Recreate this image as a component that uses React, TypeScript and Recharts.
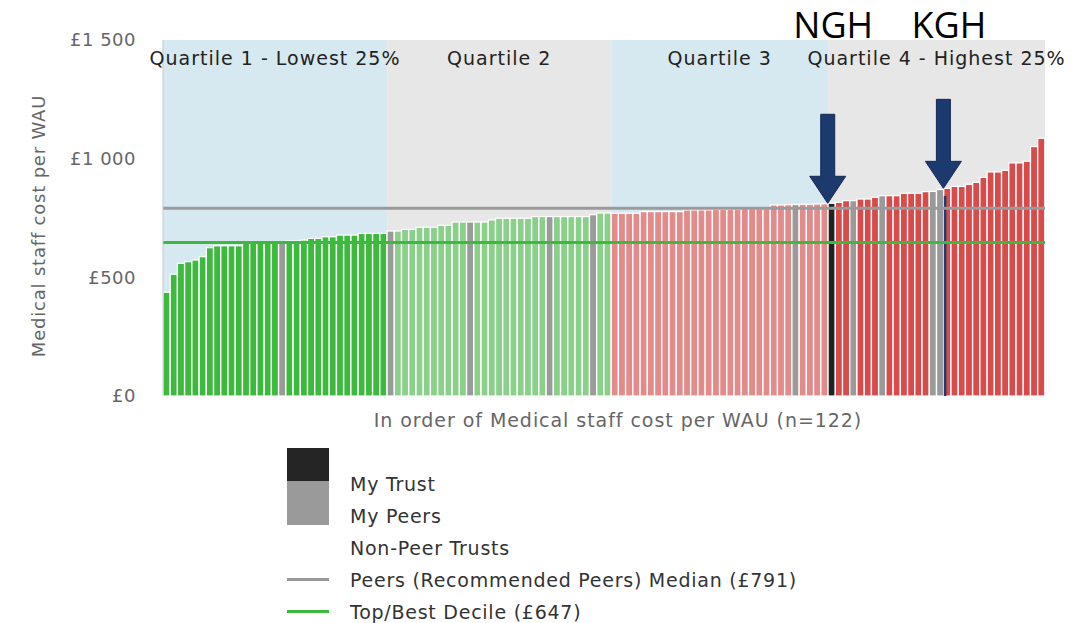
import React from 'react';
import { BarChart, Bar, XAxis, YAxis, Cell, ReferenceArea, ReferenceLine, ReferenceDot, Label } from 'recharts';

// Medical staff cost per WAU, trusts in ascending order (n=122)
const costs = [
  437, 513, 559, 566, 573, 587, 625, 633, 633, 633, 633, 643, 643, 643, 643, 643,
  643, 653, 653, 657, 664, 664, 671, 671, 678, 678, 678, 685, 685, 685, 685,
  695, 695, 702, 702, 711, 711, 711, 719, 719, 733, 733, 733, 733, 733, 742,
  749, 749, 749, 749, 749, 756, 756, 756, 756, 756, 756, 756, 756, 764, 771, 771,
  770, 770, 770, 770, 777, 777, 777, 777, 777, 777, 784, 784, 784, 784, 786, 786,
  786, 786, 789, 789, 789, 789, 805, 805, 806, 807, 808, 808, 809, 810,
  812, 816, 823, 823, 830, 830, 837, 844, 844, 844, 854, 854, 854, 861, 862, 870,
  875, 883, 883, 892, 900, 921, 944, 944, 951, 982, 982, 989, 1051, 1086,
];

const peerRanks = [17, 32, 43, 54, 60, 88, 96, 100, 107, 108];
const myTrustRank = 93;
const markerRank = 109;
const markerValue = 843;

const quartileLabels = ['Quartile 1 - Lowest 25%', 'Quartile 2', 'Quartile 3', 'Quartile 4 - Highest 25%'];
const quartileStarts = [1, 32, 63, 93];
const quartileEnds = [31, 62, 92, 122];

const peerMedian = 791;
const topDecile = 647;
const yTicks = [0, 500, 1000, 1500];

const callouts = [
  { name: 'NGH', rank: 93 },
  { name: 'KGH', rank: 109 },
];

const quartileColors = ['#3dba3d', '#8ad08a', '#e38a8a', '#d74b4b'];
const bandColors = ['#d6e9f0', '#e7e7e7', '#d6e9f0', '#e7e7e7'];
const font = '"DejaVu Sans", sans-serif';

const data = costs.map((cost, i) => {
  const rank = i + 1;
  const q = quartileEnds.findIndex((end) => rank <= end);
  return { rank: String(rank), cost, q, marker: rank === markerRank ? markerValue : 0 };
});

const colorFor = (d: any) => {
  const rank = Number(d.rank);
  if (rank === myTrustRank) return '#222222';
  if (peerRanks.includes(rank)) return '#9a9a9a';
  return quartileColors[d.q];
};

const money = (v: number) =>
  v >= 1000 ? `£${Math.floor(v / 1000)} ${String(v % 1000).padStart(3, '0')}` : `£${v}`;

function TrustBar(props: any) {
  const { x, y, width, height, fill, payload } = props;
  const mh = payload.marker ? (height * payload.marker) / payload.cost : 0;
  return (
    <g>
      <rect x={x} y={y} width={width} height={height} fill={fill} stroke="#ffffff" strokeWidth={1.2} />
      {payload.marker ? <rect x={x} y={y + height - mh} width={2.6} height={mh} fill="#1f3b73" /> : null}
    </g>
  );
}

function Arrow(props: any) {
  const { cx, cy, name } = props;
  const x = cx - 4;
  const pts = [
    [x, cy], [x - 18, cy - 27], [x - 7, cy - 27], [x - 7, cy - 89],
    [x + 7, cy - 89], [x + 7, cy - 27], [x + 18, cy - 27],
  ].map((p) => p.join(',')).join(' ');
  return (
    <g>
      <polygon points={pts} fill="#1d3a6e" stroke="#142a52" strokeWidth={1} />
      <text x={cx + 1.5} y={38} textAnchor="middle" fontSize={36} fontFamily='"Open Sans", sans-serif' fill="#000">
        {name}
      </text>
    </g>
  );
}

function YTitle(props: any) {
  const { viewBox } = props;
  const cx = viewBox.x + 38;
  const cy = viewBox.y + viewBox.height / 2 + 8;
  return (
    <text x={cx} y={cy} transform={`rotate(-90 ${cx} ${cy})`} textAnchor="middle" dominantBaseline="central"
      fontSize={18} letterSpacing={0.8} fontFamily={font} fill="#666">
      Medical staff cost per WAU
    </text>
  );
}

function XTitle(props: any) {
  const { viewBox } = props;
  return (
    <text x={viewBox.x + viewBox.width / 2 + 14} y={viewBox.y + 24} textAnchor="middle" dominantBaseline="central"
      fontSize={19} letterSpacing={0.95} fontFamily={font} fill="#666">
      {`In order of Medical staff cost per WAU (n=${costs.length})`}
    </text>
  );
}

const legendRows = [
  { label: 'My Trust', kind: 'box', color: '#252525' },
  { label: 'My Peers', kind: 'box', color: '#9a9a9a' },
  { label: 'Non-Peer Trusts', kind: 'none', color: '' },
  { label: `Peers (Recommended Peers) Median (£${peerMedian})`, kind: 'line', color: '#9a9a9a' },
  { label: `Top/Best Decile (£${topDecile})`, kind: 'line', color: '#3dba3d' },
];

export default function App() {
  return (
    <div style={{ position: 'absolute', left: 0, top: 0, width: 1077, height: 623, background: '#fff', fontFamily: font }}>
      <BarChart width={1077} height={440} data={data} margin={{ top: 40, right: 32, left: 0, bottom: 0 }} barCategoryGap={0}>
        {quartileLabels.map((label, i) => (
          <ReferenceArea
            key={label}
            x1={String(quartileStarts[i])}
            x2={String(quartileEnds[i])}
            y1={0}
            y2={1500}
            fill={bandColors[i]}
            fillOpacity={1}
            stroke="none"
            label={{ value: label, position: 'insideTop', offset: 12, fontSize: 19, letterSpacing: 1, fontFamily: font, fill: '#222' }}
          />
        ))}
        <XAxis dataKey="rank" tick={false} tickLine={false} axisLine={false} height={44}>
          <Label content={XTitle} />
        </XAxis>
        <YAxis
          domain={[0, 1500]}
          ticks={yTicks}
          width={163}
          tickSize={0}
          tickMargin={27}
          tickFormatter={money}
          tick={{ fontSize: 18, letterSpacing: 0.5, fontFamily: font, fill: '#666' }}
          axisLine={{ stroke: '#c8c8c8' }}
        >
          <Label content={YTitle} />
        </YAxis>
        <Bar dataKey="cost" isAnimationActive={false} shape={TrustBar}>
          {data.map((d) => (
            <Cell key={d.rank} fill={colorFor(d)} />
          ))}
        </Bar>
        <ReferenceLine y={peerMedian} stroke="#9a9a9a" strokeWidth={3} />
        <ReferenceLine y={topDecile} stroke="#3dba3d" strokeWidth={3} />
        {callouts.map((c) => (
          <ReferenceDot
            key={c.name}
            x={String(c.rank)}
            y={costs[c.rank - 1]}
            r={0}
            shape={(p: any) => <Arrow {...p} name={c.name} />}
          />
        ))}
      </BarChart>
      {legendRows.map((row, i) => {
        const cy = 484 + i * 32;
        return (
          <React.Fragment key={row.label}>
            {row.kind === 'box' && i === 0 ? (
              <div style={{ position: 'absolute', left: 287, top: 448, width: 42, height: 33, background: row.color }} />
            ) : null}
            {row.kind === 'box' && i === 1 ? (
              <div style={{ position: 'absolute', left: 287, top: 481, width: 42, height: 44, background: row.color }} />
            ) : null}
            {row.kind === 'line' ? (
              <div style={{ position: 'absolute', left: 287, top: cy - 2, width: 42, height: 3, background: row.color }} />
            ) : null}
            <div style={{ position: 'absolute', left: 350, top: cy - 12, lineHeight: '24px', fontSize: 19, letterSpacing: 0.75, color: '#333', whiteSpace: 'nowrap' }}>
              {row.label}
            </div>
          </React.Fragment>
        );
      })}
    </div>
  );
}
